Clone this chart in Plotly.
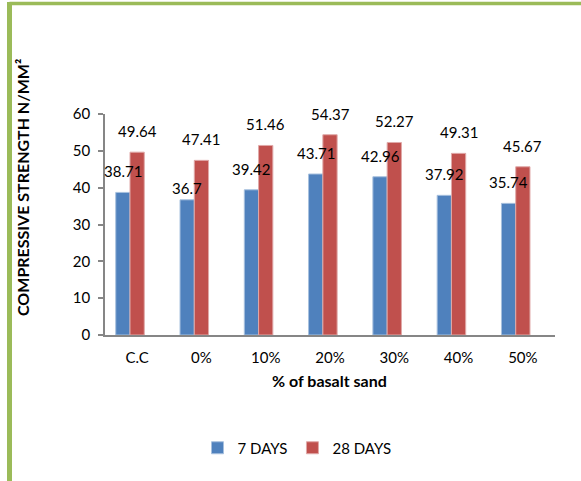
import plotly.graph_objects as go

# Compressive strength by basalt sand replacement
categories = ["C.C", "0%", "10%", "20%", "30%", "40%", "50%"]
days7 = [38.71, 36.7, 39.42, 43.71, 42.96, 37.92, 35.74]
days28 = [49.64, 47.41, 51.46, 54.37, 52.27, 49.31, 45.67]
series_names = ["7 DAYS", "28 DAYS"]

BLUE = "#4F81BD"
RED = "#C0504D"
AXIS = "#868686"
GREEN = "#9BBB59"
FONT = "Lato, 'Open Sans', sans-serif"
FS = 15

# bar width in category units; bars sit in the left two of three slots
w = 0.222
offsets = [-1.5 * w, -0.5 * w]
colors = [BLUE, RED]
edges = ["#A7C0DE", "#E0A9A8"]

fig = go.Figure()
for name, vals, off, col, edge in zip(series_names, [days7, days28], offsets, colors, edges):
    fig.add_trace(go.Bar(
        x=categories, y=vals, name=name,
        width=w, offset=off,
        marker=dict(color=col, line=dict(color=edge, width=1)),
        hoverinfo="x+y",
    ))

# value labels above each bar
label_shift = 21
nudges = {(0, 1): -9}
for s, vals in enumerate([days7, days28]):
    for i, v in enumerate(vals):
        fig.add_annotation(
            x=i + offsets[s] + w / 2, y=v, xref="x", yref="y",
            text=f"{v:g}", showarrow=False,
            yanchor="middle", xanchor="center",
            yshift=label_shift + nudges.get((s, i), 0),
            font=dict(family=FONT, size=FS, color="black"),
        )

# plot area geometry (pixels) used to place items outside it
W, H = 581, 481
L, R, T, B = 105, 26, 114, 146
pw, ph = W - L - R, H - T - B


def px(x):
    return (x - L) / pw


def py(y):
    return (H - B - y) / ph


# axis titles
fig.add_annotation(
    x=px(22), y=py(188), xref="paper", yref="paper",
    text="<b>COMPRESSIVE STRENGTH N/MM²</b>", textangle=-90,
    showarrow=False, xanchor="center", yanchor="middle",
    font=dict(family=FONT, size=16, color="black"),
)
fig.add_annotation(
    x=px(329), y=py(380), xref="paper", yref="paper",
    text="<b>% of basalt sand</b>",
    showarrow=False, xanchor="center", yanchor="middle",
    font=dict(family=FONT, size=16, color="black"),
)

# green frame along the top and left edge
fig.add_shape(type="line", xref="paper", yref="paper",
              x0=px(9.5), x1=px(W + 5), y0=py(3.5), y1=py(3.5),
              line=dict(color=GREEN, width=3.5), layer="below")
fig.add_shape(type="line", xref="paper", yref="paper",
              x0=px(9.5), x1=px(9.5), y0=py(2), y1=py(H + 5),
              line=dict(color=GREEN, width=5), layer="below")

fig.update_layout(
    width=W, height=H,
    margin=dict(l=L, r=R, t=T, b=B),
    paper_bgcolor="white", plot_bgcolor="white",
    barmode="overlay",
    font=dict(family=FONT, size=FS, color="black"),
    showlegend=True,
    legend=dict(
        orientation="h", x=px(297), y=py(448),
        xanchor="center", yanchor="middle",
        font=dict(family=FONT, size=FS, color="black"),
        itemwidth=30, traceorder="normal",
    ),
    xaxis=dict(
        type="category", range=[-0.5, 6.5],
        showline=True, linecolor=AXIS, linewidth=1.5,
        ticks="", showgrid=False, zeroline=False,
        ticklabelstandoff=8,
        tickfont=dict(family=FONT, size=FS, color="black"),
    ),
    yaxis=dict(
        range=[0, 60], dtick=10,
        showline=True, linecolor=AXIS, linewidth=1.5,
        ticks="outside", ticklen=5, tickcolor=AXIS, tickwidth=1.5,
        showgrid=False, zeroline=False,
        ticklabelstandoff=5,
        tickfont=dict(family=FONT, size=FS, color="black"),
    ),
)

fig.write_html("out.html")
